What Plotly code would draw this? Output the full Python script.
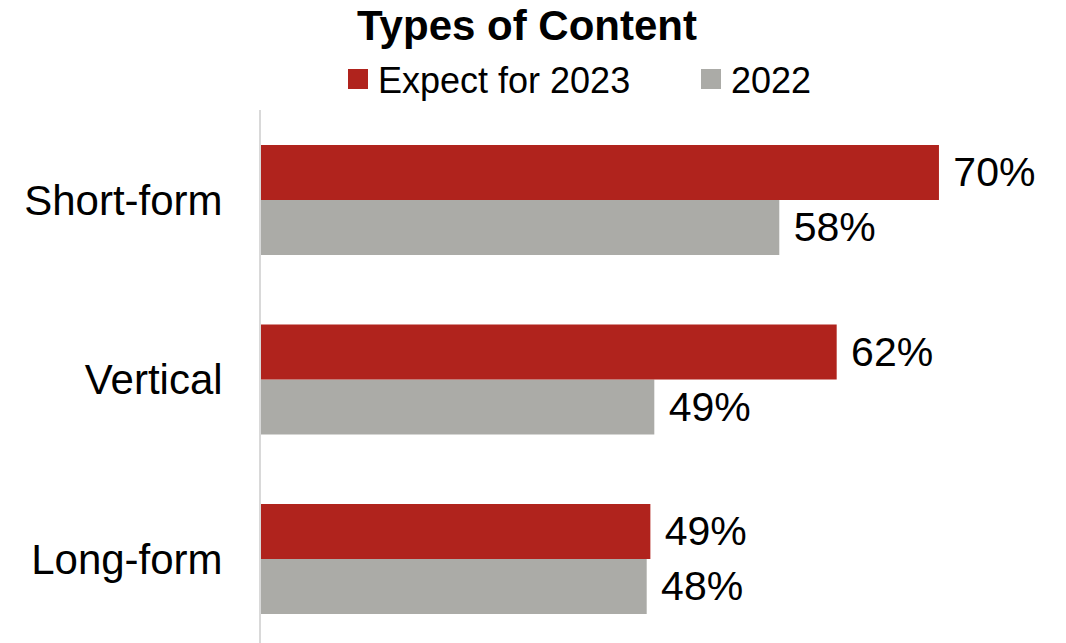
import plotly.graph_objects as go

categories = ["Long-form", "Vertical", "Short-form"]
expect_2023 = [48.63, 62.33, 69.85]
year_2022 = [48.36, 48.92, 58.11]
series_names = ["Expect for 2023", "2022"]

RED = "#B0231D"
GRAY = "#ABABA7"
FONT = "Liberation Sans, Arial, sans-serif"

fig = go.Figure()

# bars: gray first (drawn lower in each group), red second (upper)
fig.add_trace(go.Bar(
    y=categories, x=year_2022, orientation="h", name=series_names[1],
    marker=dict(color=GRAY, line=dict(width=0)),
    texttemplate="\u00a0%{x:.0f}%", textposition="outside",
    textfont=dict(size=41, color="black", family=FONT),
    constraintext="none", cliponaxis=False, showlegend=False,
))
fig.add_trace(go.Bar(
    y=categories, x=expect_2023, orientation="h", name=series_names[0],
    marker=dict(color=RED, line=dict(width=0)),
    texttemplate="\u00a0%{x:.0f}%", textposition="outside",
    textfont=dict(size=41, color="black", family=FONT),
    constraintext="none", cliponaxis=False, showlegend=False,
))

# legend entries
for name, col in [(series_names[0], RED), (series_names[1], GRAY)]:
    fig.add_trace(go.Scatter(
        x=[None], y=[None], mode="markers", name=name,
        marker=dict(symbol="square", size=16, color=col, line=dict(color=col, width=4)),
        showlegend=True, hoverinfo="skip",
    ))

fig.update_layout(
    width=1066, height=643,
    margin=dict(l=261, r=0, t=110, b=0, pad=0),
    paper_bgcolor="white", plot_bgcolor="white",
    barmode="group", bargap=0.387, bargroupgap=0,
    font=dict(family=FONT, color="black"),
    title=dict(text="<b>Types of Content</b>", x=0.4944, xref="container", xanchor="center",
               y=0.983, yref="container", yanchor="top",
               font=dict(size=42, color="black", family=FONT)),
    legend=dict(orientation="h", x=(338 - 261) / 805, xanchor="left",
                y=1.0582, yanchor="middle", font=dict(size=36, color="black", family=FONT),
                entrywidth=308, bgcolor="rgba(0,0,0,0)", borderwidth=0),
    showlegend=True,
)
fig.update_xaxes(range=[20, 20 + 805 / 13.6], showgrid=False, zeroline=False,
                 showticklabels=False, showline=False, ticks="")
fig.update_yaxes(range=[-0.468, 2.501], categoryorder="array", categoryarray=categories,
                 showgrid=False, zeroline=False, showline=True, linecolor="#D9D9D9",
                 linewidth=2, ticks="", ticklabelstandoff=28,
                 tickfont=dict(size=42, color="black", family=FONT))

fig.write_html("out.html", config={"displayModeBar": False},
               post_script="document.body.style.margin='0';document.body.style.overflow='hidden';")
